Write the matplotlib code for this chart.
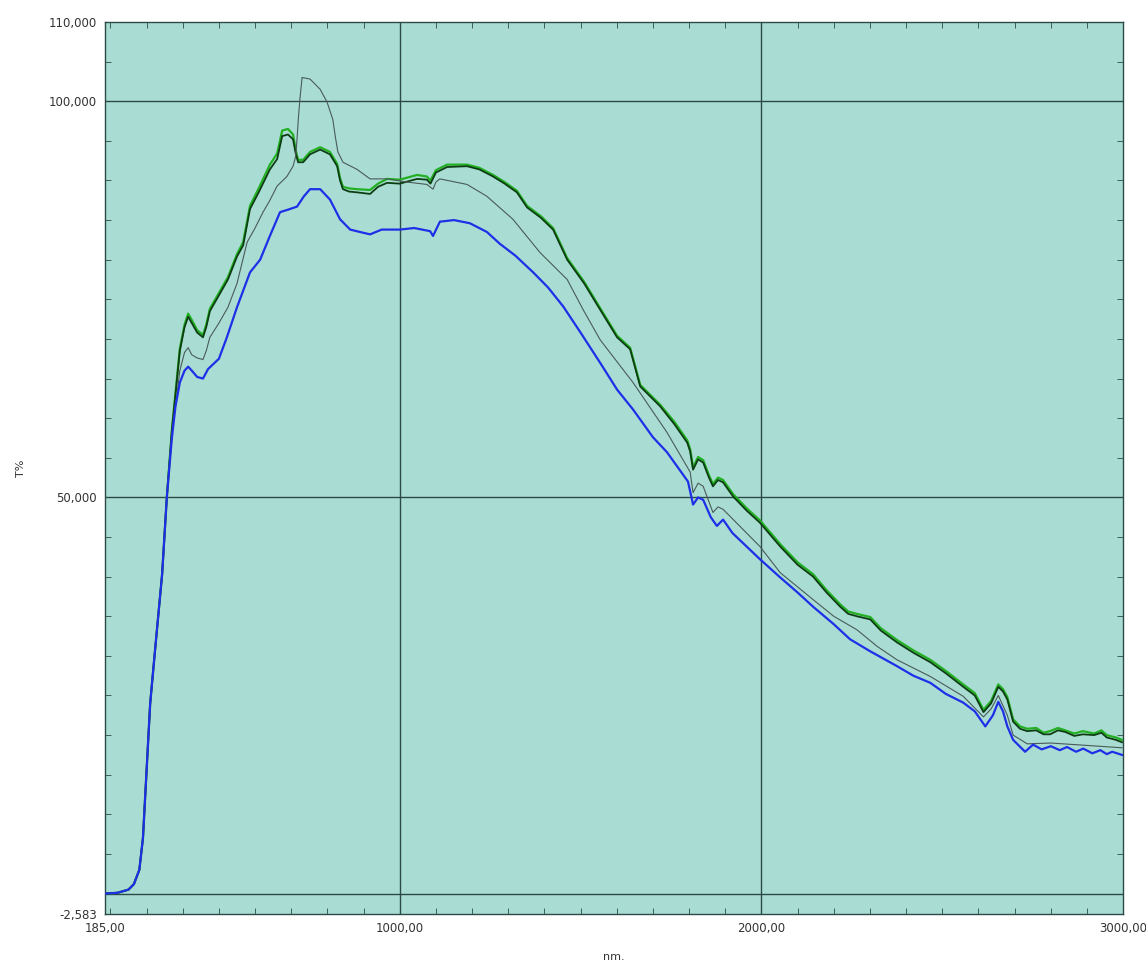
import matplotlib.pyplot as plt
from matplotlib.ticker import FixedLocator, MultipleLocator

# wavelength (nm) / transmittance (%)
nm_green = [185, 220, 250, 265, 280, 290, 300, 310, 323, 343, 356, 370, 380, 392, 405, 415,
            425, 440, 456, 465, 475, 500, 525, 550, 567, 586, 610, 641, 661, 675, 691, 705,
            712, 719, 733, 752, 780, 807, 827, 835, 843, 860, 882, 918, 940, 965, 1000, 1048,
            1075, 1085, 1100, 1131, 1186, 1220, 1258, 1290, 1324, 1352, 1390, 1424, 1463, 1510,
            1554, 1601, 1637, 1665, 1720, 1760, 1795, 1803, 1811, 1825, 1839, 1855, 1866, 1880,
            1894, 1922, 1960, 1996, 2052, 2100, 2143, 2180, 2218, 2240, 2264, 2301, 2330, 2375,
            2420, 2467, 2510, 2558, 2590, 2614, 2635, 2655, 2668, 2680, 2696, 2715, 2735, 2760,
            2780, 2798, 2820, 2840, 2865, 2889, 2920, 2940, 2955, 2980, 2997]
t_dark = [0.0, 0.1, 0.5, 1.2, 3.0, 7.0, 15.5, 24.0, 30.5, 40.3, 50.0, 58.5, 63.0, 68.5, 71.5, 72.8,
          72.0, 70.8, 70.2, 71.5, 73.5, 75.5, 77.5, 80.4, 81.8, 86.4, 88.5, 91.4, 92.7, 95.6, 95.8, 95.2,
          93.5, 92.3, 92.3, 93.3, 93.9, 93.3, 91.8, 90.0, 88.9, 88.6, 88.5, 88.3, 89.2, 89.7, 89.6, 90.2,
          90.1, 89.6, 91.0, 91.7, 91.8, 91.4, 90.5, 89.6, 88.5, 86.6, 85.3, 83.8, 80.0, 77.0,
          73.7, 70.2, 68.7, 64.0, 61.5, 59.2, 56.9, 55.8, 53.5, 54.8, 54.4, 52.5, 51.4, 52.2,
          51.9, 50.1, 48.3, 46.8, 43.8, 41.5, 40.0, 38.0, 36.2, 35.3, 35.0, 34.6, 33.2, 31.7,
          30.4, 29.2, 27.8, 26.1, 25.0, 22.9, 24.0, 26.1, 25.5, 24.5, 21.7, 20.8, 20.5, 20.6,
          20.1, 20.1, 20.6, 20.4, 19.9, 20.1, 20.0, 20.3, 19.7, 19.4, 19.1]
t_light = [0.0, 0.1, 0.5, 1.2, 3.0, 7.0, 15.5, 24.0, 30.5, 40.3, 50.0, 58.5, 63.2, 68.8, 71.8, 73.2,
           72.4, 71.1, 70.5, 71.8, 73.8, 75.8, 77.8, 80.7, 82.2, 86.8, 89.0, 92.0, 93.4, 96.3, 96.5, 95.8,
           93.9, 92.6, 92.6, 93.6, 94.2, 93.6, 92.1, 90.3, 89.2, 89.0, 88.9, 88.8, 89.6, 90.2, 90.1, 90.7,
           90.5, 90.0, 91.3, 92.0, 92.0, 91.6, 90.7, 89.8, 88.7, 86.8, 85.5, 84.0, 80.2, 77.2,
           73.9, 70.4, 68.9, 64.2, 61.7, 59.5, 57.2, 56.1, 53.8, 55.1, 54.7, 52.8, 51.7, 52.5,
           52.2, 50.4, 48.6, 47.1, 44.1, 41.8, 40.3, 38.3, 36.5, 35.6, 35.3, 34.9, 33.5, 32.0,
           30.7, 29.5, 28.1, 26.4, 25.3, 23.2, 24.3, 26.4, 25.8, 24.8, 22.0, 21.1, 20.8, 20.9,
           20.3, 20.5, 20.9, 20.6, 20.2, 20.5, 20.2, 20.6, 20.0, 19.7, 19.4]

nm_gray = [185, 220, 250, 265, 280, 290, 300, 310, 323, 343, 356, 370, 380, 392, 405, 415,
           425, 440, 456, 465, 475, 500, 525, 550, 578, 600, 622, 641, 661, 688, 705, 712,
           716, 720, 724, 730, 752, 780, 799, 815, 822, 829, 843, 882, 918, 965, 1020, 1075,
           1092, 1100, 1111, 1186, 1241, 1313, 1388, 1463, 1507, 1554, 1645, 1739, 1803, 1811,
           1825, 1839, 1866, 1880, 1894, 1996, 2052, 2143, 2200, 2264, 2320, 2375, 2467, 2558,
           2614, 2635, 2655, 2680, 2696, 2735, 2800, 2900, 2997]
t_gray = [0.0, 0.1, 0.5, 1.2, 3.0, 7.0, 15.5, 24.0, 30.5, 40.3, 50.0, 58.0, 61.5, 66.0, 68.3, 68.9,
          68.0, 67.6, 67.4, 68.5, 70.2, 72.0, 74.0, 77.0, 82.2, 84.0, 86.0, 87.5, 89.3, 90.5, 91.8, 93.0,
          95.2, 98.0, 100.3, 103.0, 102.8, 101.5, 99.9, 97.7, 95.5, 93.6, 92.3, 91.4, 90.2, 90.2, 89.8, 89.5,
          88.9, 89.8, 90.2, 89.5, 88.0, 85.1, 80.9, 77.5, 73.7, 69.9, 64.5, 58.2, 53.2, 50.6,
          51.8, 51.4, 48.1, 48.8, 48.5, 43.8, 40.5, 37.1, 35.0, 33.3, 31.2, 29.5, 27.4, 24.9,
          22.3, 23.3, 25.0, 22.5, 20.0, 18.9, 19.0, 18.7, 18.4]

nm_blue = [185, 220, 250, 265, 280, 290, 300, 310, 323, 343, 356, 370, 380, 392, 405, 415,
           425, 440, 456, 470, 500, 522, 550, 586, 614, 641, 669, 690, 716, 735, 752, 780,
           807, 835, 863, 890, 918, 950, 1000, 1040, 1084, 1092, 1111, 1150, 1194, 1241, 1277,
           1320, 1369, 1410, 1452, 1500, 1554, 1601, 1645, 1700, 1739, 1797, 1811, 1825, 1839,
           1860, 1877, 1894, 1920, 1996, 2052, 2100, 2143, 2200, 2245, 2300, 2375, 2420, 2467,
           2510, 2558, 2590, 2619, 2640, 2655, 2668, 2680, 2696, 2729, 2751, 2775, 2800, 2825,
           2845, 2870, 2890, 2915, 2937, 2955, 2970, 2997]
t_blue = [0.0, 0.1, 0.5, 1.2, 3.0, 7.0, 15.5, 24.0, 30.5, 40.3, 50.0, 57.5, 61.5, 64.5, 66.0, 66.5,
          66.0, 65.2, 65.0, 66.2, 67.5, 70.2, 74.0, 78.4, 80.0, 83.0, 86.0, 86.3, 86.7, 88.0, 88.9, 88.9,
          87.6, 85.1, 83.8, 83.5, 83.2, 83.8, 83.8, 84.0, 83.6, 83.0, 84.8, 85.0, 84.6, 83.5, 82.0,
          80.5, 78.4, 76.5, 74.1, 70.8, 67.0, 63.6, 61.1, 57.6, 55.7, 52.0, 49.1, 50.0, 49.7,
          47.5, 46.4, 47.2, 45.5, 42.2, 39.9, 38.0, 36.2, 34.0, 32.1, 30.6, 28.7, 27.5, 26.6,
          25.2, 24.1, 23.0, 21.1, 22.5, 24.2, 23.0, 21.1, 19.4, 17.9, 18.8, 18.2, 18.6, 18.1,
          18.5, 17.9, 18.3, 17.7, 18.1, 17.6, 17.9, 17.5]

x_ticks = [185, 1000, 2000, 3000]
x_labels = ['185,00', '1000,00', '2000,00', '3000,00']
y_ticks = [-2.583, 50, 100, 110]
y_labels = ['-2,583', '50,000', '100,000', '110,000']

fig = plt.figure(figsize=(11.46, 9.65), dpi=100)
ax = fig.add_axes([0.0916, 0.0528, 0.8884, 0.9244])
ax.set_facecolor('#a9ddd3')

for v in [1000, 2000]:
    ax.axvline(v, color='#2c4a45', lw=1.0, zorder=1)
for v in [0, 50, 100]:
    ax.axhline(v, color='#2c4a45', lw=1.0, zorder=1)

ax.plot(nm_green, t_light, color='#22b022', lw=1.6, zorder=3)
ax.plot(nm_green, t_dark, color='#0d3d12', lw=1.3, zorder=4)
ax.plot(nm_gray, t_gray, color='#4a5a58', lw=0.8, zorder=5)
ax.plot(nm_blue, t_blue, color='#1f2fe8', lw=1.6, zorder=6)

ax.set_xlim(185, 3000)
ax.set_ylim(-2.583, 110)
ax.xaxis.set_major_locator(FixedLocator(x_ticks))
ax.set_xticklabels(x_labels)
ax.yaxis.set_major_locator(FixedLocator(y_ticks))
ax.set_yticklabels(y_labels)
ax.xaxis.set_minor_locator(MultipleLocator(100))
ax.yaxis.set_minor_locator(MultipleLocator(5))
ax.tick_params(which='major', length=0, pad=6, labelsize=8.5, labelcolor='#333333')
ax.tick_params(which='minor', direction='in', length=4, color='#2c4a45',
               top=True, right=True)

for s in ax.spines.values():
    s.set_color('#2c4a45')
    s.set_linewidth(1.0)

ax.set_xlabel('nm.', fontsize=8, color='#333333')
ax.xaxis.set_label_coords(0.5, -0.042)
ax.set_ylabel('T%', fontsize=8, color='#333333')
ax.yaxis.set_label_coords(-0.078, 0.5)

fig.savefig('out.png', dpi=100, facecolor='white')
